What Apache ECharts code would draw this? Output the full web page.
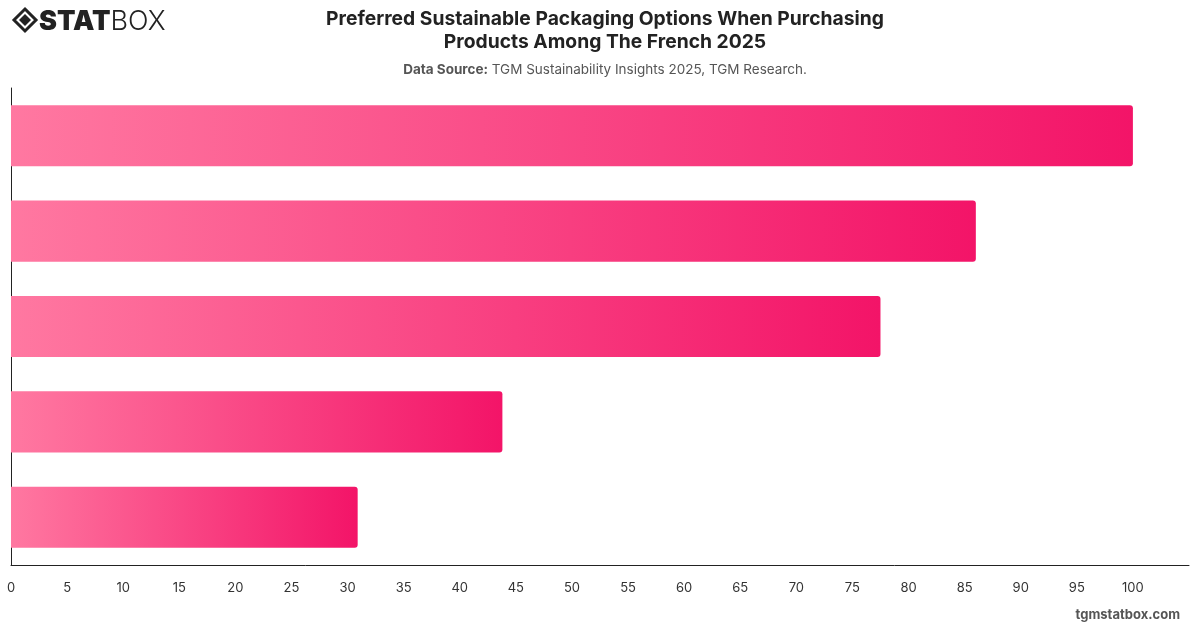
<!DOCTYPE html>
<html>
<head>
<meta charset="utf-8">
<script src="https://cdn.jsdelivr.net/npm/echarts@6/dist/echarts.min.js"></script>
<style>
  html, body { margin: 0; padding: 0; background: #fff; }
  #main { width: 1200px; height: 628px; }
</style>
</head>
<body>
<div id="main"></div>
<script>
// categories (labels are hidden in the reference) and values
var categories = ['Option 1', 'Option 2', 'Option 3', 'Option 4', 'Option 5'];
var values = [100, 86, 77.5, 43.8, 30.9];
var xTicks = [0, 5, 10, 15, 20, 25, 30, 35, 40, 45, 50, 55, 60, 65, 70, 75, 80, 85, 90, 95, 100];

var _main = document.getElementById('main');
var myChart = echarts.init(_main, null, {renderer: 'canvas'});

var font = 'Inter, "Noto Sans", sans-serif';

var option = {
    backgroundColor: '#ffffff',
    animation: false,
    title: [
        {
            text: 'Preferred Sustainable Packaging Options When Purchasing\nProducts Among The French 2025',
            left: 600,
            top: 3,
            textAlign: 'center',
            textStyle: {
                color: '#222222',
                fontSize: 19.3,
                fontWeight: 'bold',
                fontFamily: font,
                lineHeight: 23
            }
        },
        {
            text: '{b|Data Source:} TGM Sustainability Insights 2025, TGM Research.',
            left: 600,
            top: 58,
            textAlign: 'center',
            textStyle: {
                color: '#555555',
                fontSize: 13.5,
                fontWeight: 'normal',
                fontFamily: font,
                rich: {
                    b: { fontWeight: 'bold', color: '#555555', fontSize: 13.5, fontFamily: font }
                }
            }
        }
    ],
    graphic: [
        // logo icon
        {
            type: 'polygon',
            shape: { points: [[25, 9], [36, 20], [25, 31], [14, 20]] },
            style: { fill: 'none', stroke: '#222', lineWidth: 3 }
        },
        {
            type: 'polygon',
            shape: { points: [[25, 14], [31, 20], [25, 26], [19, 20]] },
            style: { fill: '#222' }
        },
        {
            type: 'text',
            left: 39,
            top: 8,
            style: {
                text: '{a|STAT}{b|BOX}',
                rich: {
                    a: { fontSize: 27, fontWeight: 900, fill: '#222', fontFamily: font },
                    b: { fontSize: 27, fontWeight: 300, fill: '#222', fontFamily: font }
                }
            }
        },
        {
            type: 'text',
            right: 20,
            top: 609,
            style: {
                text: 'tgmstatbox.com',
                fontSize: 13,
                fontWeight: 'bold',
                fill: '#555',
                fontFamily: font
            }
        }
    ],
    grid: {
        left: 11,
        right: 11,
        top: 88,
        bottom: 63,
        containLabel: false
    },
    xAxis: {
        type: 'value',
        min: 0,
        max: 105,
        interval: 5,
        axisLine: { show: true, lineStyle: { color: '#222', width: 1 } },
        axisTick: { show: false },
        splitLine: { show: false },
        axisLabel: {
            show: true,
            showMaxLabel: false,
            margin: 17,
            color: '#333',
            fontSize: 13,
            fontFamily: font,
            formatter: function (v) {
                return xTicks.indexOf(v) >= 0 ? String(v) : '';
            }
        }
    },
    yAxis: {
        type: 'category',
        inverse: true,
        data: categories,
        axisLine: { show: true, lineStyle: { color: '#222', width: 1 } },
        axisTick: { show: false },
        axisLabel: { show: false },
        splitLine: { show: false }
    },
    series: [
        {
            type: 'bar',
            data: values,
            barWidth: '64%',
            itemStyle: {
                borderRadius: [0, 3, 3, 0],
                color: new echarts.graphic.LinearGradient(0, 0, 1, 0, [
                    { offset: 0, color: '#ff78a1' },
                    { offset: 1, color: '#f31468' }
                ])
            }
        }
    ]
};

myChart.setOption(option);
window.onresize = function () { myChart.resize(); };
</script>
</body>
</html>
